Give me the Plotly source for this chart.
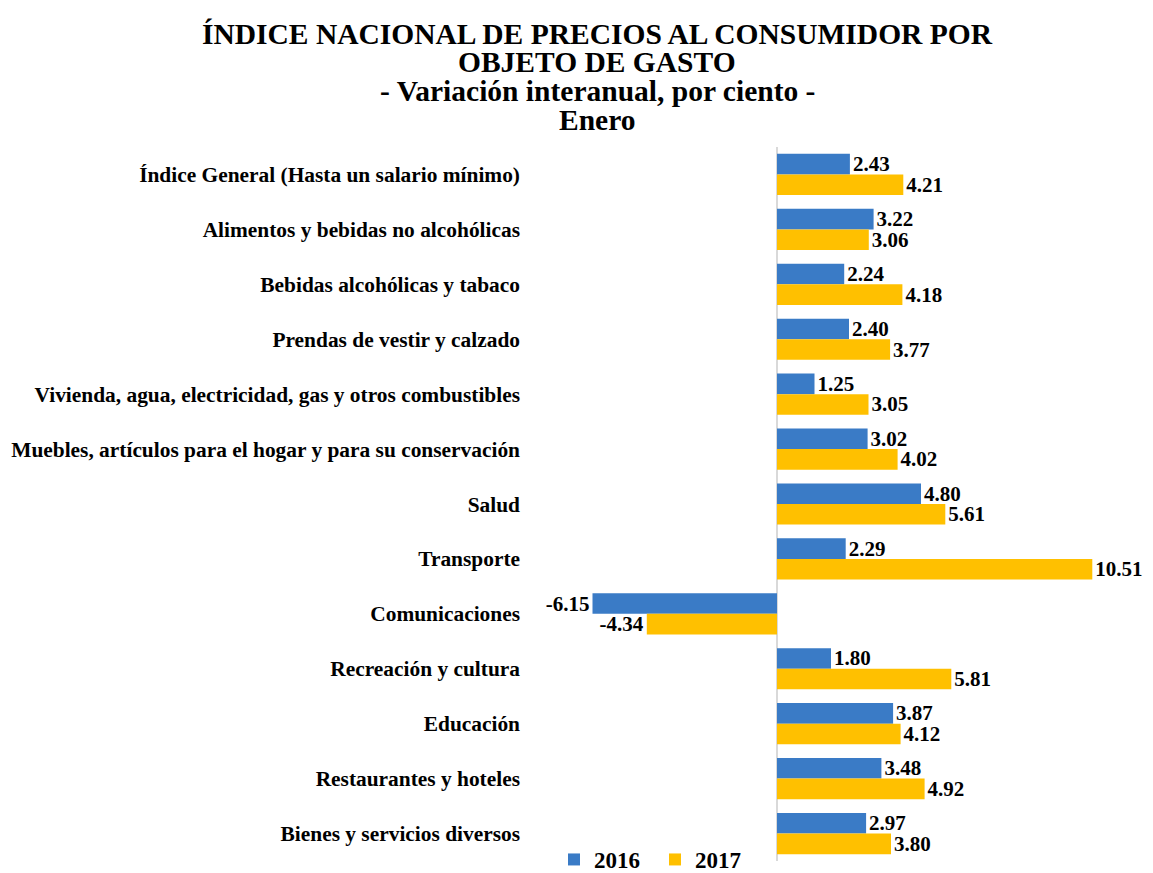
import plotly.graph_objects as go

categories = [
    "Índice General (Hasta un salario mínimo)",
    "Alimentos y bebidas no alcohólicas",
    "Bebidas alcohólicas y tabaco",
    "Prendas de vestir y calzado",
    "Vivienda, agua, electricidad, gas y otros combustibles",
    "Muebles, artículos para el hogar y para su conservación",
    "Salud",
    "Transporte",
    "Comunicaciones",
    "Recreación y cultura",
    "Educación",
    "Restaurantes y hoteles",
    "Bienes y servicios diversos",
]
values_2016 = [2.43, 3.22, 2.24, 2.40, 1.25, 3.02, 4.80, 2.29, -6.15, 1.80, 3.87, 3.48, 2.97]
values_2017 = [4.21, 3.06, 4.18, 3.77, 3.05, 4.02, 5.61, 10.51, -4.34, 5.81, 4.12, 4.92, 3.80]
series_names = ["2016", "2017"]

BLUE = "#3A7BC6"
GOLD = "#FFC000"
FONT = "Liberation Serif, Times New Roman, serif"

# page body has an 8px default margin; compensate so the figure lands at the reference spot
OFF = 8
W, H = 1153 - OFF, 873 - OFF
PL, PR, PT, PB = 528 - OFF, 1122 - OFF, 146.5 - OFF, 861.5 - OFF

def py(yref):
    return (PB - (yref - OFF)) / (PB - PT)

def px(xref):
    return ((xref - OFF) - PL) / (PR - PL)

fig = go.Figure()
for name, vals, col in [(series_names[0], values_2016, BLUE), (series_names[1], values_2017, GOLD)]:
    fig.add_trace(go.Bar(
        y=categories, x=vals, orientation="h", name=f"<b>{name}</b>",
        marker=dict(color=col, line=dict(width=0)),
        text=[f"{v:.2f}" for v in vals],
        texttemplate="<b>%{text}</b>",
        textposition="outside",
        textfont=dict(family=FONT, size=21, color="black"),
        constraintext="none",
        cliponaxis=False,
        hoverinfo="skip",
    ))

title_lines = [
    ("ÍNDICE NACIONAL DE PRECIOS AL CONSUMIDOR POR", 33),
    ("OBJETO DE GASTO", 61),
    ("- Variación interanual, por ciento -", 90),
    ("Enero", 119),
]
annotations = []
for txt, yc in title_lines:
    annotations.append(dict(
        text=f"<b>{txt}</b>", xref="paper", yref="paper",
        x=px(597), y=py(yc), xanchor="center", yanchor="middle",
        showarrow=False, font=dict(family=FONT, size=29.5, color="black"),
    ))

fig.update_layout(
    width=W, height=H,
    margin=dict(l=PL, r=W - PR, t=PT, b=H - PB, pad=0, autoexpand=False),
    paper_bgcolor="white", plot_bgcolor="white",
    barmode="group", bargap=0.25, bargroupgap=0.0,
    font=dict(family=FONT, size=21, color="black"),
    xaxis=dict(range=[-8.3, 11.5], showgrid=False, showticklabels=False,
               zeroline=True, zerolinecolor="#D9D9D9", zerolinewidth=2,
               showline=False, ticks="", automargin=False),
    yaxis=dict(autorange="reversed", showgrid=False, showline=False, ticks="",
               tickfont=dict(family=FONT, size=21.4, color="black"),
               tickprefix="<b>", ticksuffix="</b>",
               ticklabelstandoff=7, automargin=False),
    showlegend=True,
    legend=dict(orientation="h", x=px(554), y=py(860), xanchor="left", yanchor="middle",
                font=dict(family=FONT, size=23, color="black"),
                entrywidth=56, entrywidthmode="pixels",
                bgcolor="rgba(0,0,0,0)"),
    annotations=annotations,
)

fig.write_html("out.html")
